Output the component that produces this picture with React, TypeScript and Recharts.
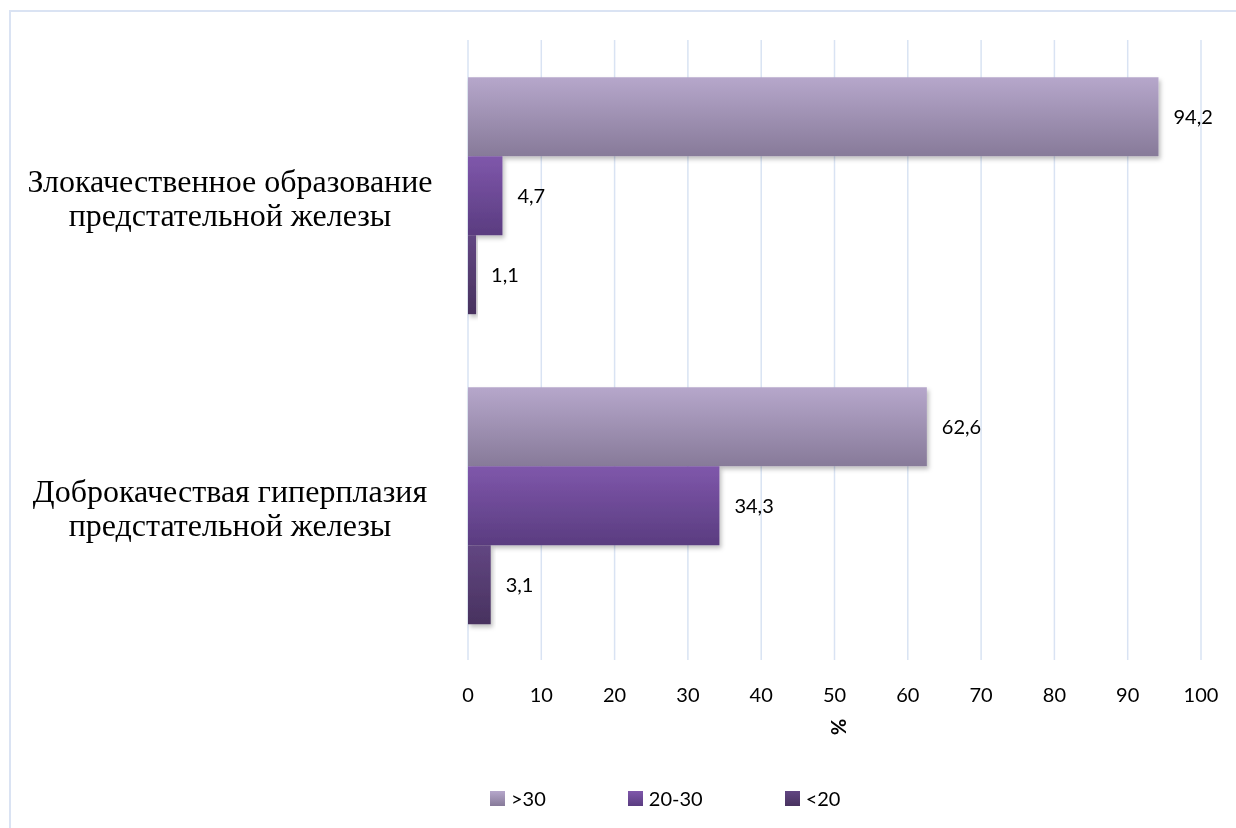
import React from 'react';
import { BarChart, Bar, XAxis, YAxis, CartesianGrid, LabelList } from 'recharts';

const categories = [
  ['Злокачественное образование', 'предстательной железы'],
  ['Доброкачествая гиперплазия', 'предстательной железы'],
];
const over30 = [94.2, 62.6];
const from20to30 = [4.7, 34.3];
const under20 = [1.1, 3.1];
const seriesNames = ['>30', '20-30', '<20'];
const xTicks = [0, 10, 20, 30, 40, 50, 60, 70, 80, 90, 100];

const data = categories.map((c, i) => ({
  name: c.join('|'),
  a: over30[i],
  b: from20to30[i],
  c: under20[i],
}));

const gradients = [
  { id: 'gA', top: '#b6a7cb', bottom: '#877a99' },
  { id: 'gB', top: '#7f57ab', bottom: '#5a3c80' },
  { id: 'gC', top: '#624682', bottom: '#48325f' },
];

const fmt = (v: any) => String(v).replace('.', ',');

const CategoryTick = (props: any) => {
  const { y, payload } = props;
  const lines = String(payload.value).split('|');
  return (
    <text x={230} y={y} textAnchor="middle" fontFamily="'Liberation Serif', 'Times New Roman', serif" fontSize={32} fill="#000">
      <tspan x={230} dy={-3}>{lines[0]}</tspan>
      <tspan x={230} dy={34}>{lines[1]}</tspan>
    </text>
  );
};

const LegendBlock = () => (
  <div style={{ position: 'fixed', left: 490, top: 786, display: 'flex', gap: 82, fontFamily: 'Lato, sans-serif', fontSize: 20, color: '#000', alignItems: 'center' }}>
    {seriesNames.map((n, i) => (
      <div key={n} style={{ display: 'flex', alignItems: 'center' }}>
        <svg width={15} height={15} style={{ marginRight: 6 }}>
          <defs>
            <linearGradient id={'lg' + i} x1="0" y1="0" x2="0" y2="1">
              <stop offset="0%" stopColor={gradients[i].top} />
              <stop offset="100%" stopColor={gradients[i].bottom} />
            </linearGradient>
          </defs>
          <rect x={0} y={0} width={15} height={15} fill={`url(#lg${i})`} />
        </svg>
        <span>{n}</span>
      </div>
    ))}
  </div>
);

const PercentLabel = (props: any) => {
  const vb = props.viewBox || {};
  const cx = (vb.x ?? 468) + (vb.width ?? 733) / 2 + 4;
  const cy = 727;
  return (
    <text x={cx} y={cy} textAnchor="middle" dominantBaseline="central" fontFamily="Lato, sans-serif" fontWeight="bold" fontSize={20} fill="#000" transform={`rotate(90, ${cx}, ${cy})`}>
      %
    </text>
  );
};

export default function App() {
  return (
    <div>
      <div style={{ position: 'fixed', left: 9, top: 10, width: 1240, height: 830, borderLeft: '2px solid #dae3f3', borderTop: '2px solid #dae3f3', boxSizing: 'border-box' }} />
      <div style={{ position: 'fixed', left: 0, top: 0 }}>
        <BarChart
          width={1236}
          height={828}
          data={data}
          layout="vertical"
          margin={{ top: 40, right: 35, left: 0, bottom: 88 }}
          barCategoryGap="12%"
          barGap={0}
        >
          <defs>
            {gradients.map((g) => (
              <linearGradient key={g.id} id={g.id} x1="0" y1="0" x2="0" y2="1">
                <stop offset="0%" stopColor={g.top} />
                <stop offset="100%" stopColor={g.bottom} />
              </linearGradient>
            ))}
            <filter id="shadow" x="-10%" y="-10%" width="130%" height="140%">
              <feDropShadow dx={2} dy={3} stdDeviation={2} floodColor="#000" floodOpacity={0.25} />
            </filter>
          </defs>
          <CartesianGrid horizontal={false} stroke="#d9e3f3" strokeWidth={1.5} />
          <XAxis
            type="number"
            domain={[0, 100]}
            ticks={xTicks}
            axisLine={false}
            tickLine={false}
            tickMargin={22}
            height={80}
            tick={{ fontFamily: 'Lato, sans-serif', fontSize: 20, fill: '#000' }}
            label={<PercentLabel />}
          />
          <YAxis
            type="category"
            dataKey="name"
            width={468}
            axisLine={false}
            tickLine={false}
            tick={<CategoryTick />}
          />
          <Bar dataKey="a" name={seriesNames[0]} fill="url(#gA)" filter="url(#shadow)" isAnimationActive={false}>
            <LabelList dataKey="a" position="right" offset={15} formatter={fmt} style={{ fontFamily: 'Lato, sans-serif', fontSize: 20, fill: '#000' }} />
          </Bar>
          <Bar dataKey="b" name={seriesNames[1]} fill="url(#gB)" filter="url(#shadow)" isAnimationActive={false}>
            <LabelList dataKey="b" position="right" offset={15} formatter={fmt} style={{ fontFamily: 'Lato, sans-serif', fontSize: 20, fill: '#000' }} />
          </Bar>
          <Bar dataKey="c" name={seriesNames[2]} fill="url(#gC)" filter="url(#shadow)" isAnimationActive={false}>
            <LabelList dataKey="c" position="right" offset={15} formatter={fmt} style={{ fontFamily: 'Lato, sans-serif', fontSize: 20, fill: '#000' }} />
          </Bar>
        </BarChart>
      </div>
      <LegendBlock />
    </div>
  );
}
